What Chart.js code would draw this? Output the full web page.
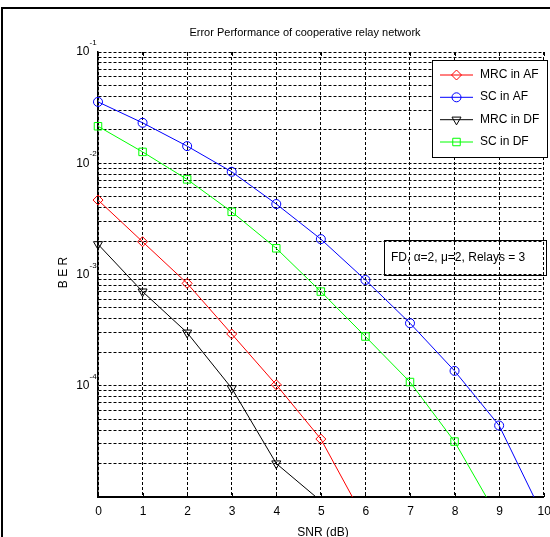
<!DOCTYPE html>
<html>
<head>
<meta charset="utf-8">
<script src="https://cdn.jsdelivr.net/npm/chart.js@4/dist/chart.umd.min.js"></script>
<style>
  html, body { margin: 0; padding: 0; background: #fff; overflow: hidden; }
  canvas { display: block; }
</style>
</head>
<body>
<canvas id="ber-chart" width="550" height="537"></canvas>
<script>
// 数据：BER 值
const snrValues = [0, 1, 2, 3, 4, 5, 6, 7, 8, 9, 10];
const mrcAF = [0.00467, 0.00197, 0.000833, 0.000292, 0.000102, 3.32e-5, 6.1e-6];
const scAF = [0.0356, 0.0231, 0.01426, 0.00838, 0.0043, 0.00208, 0.000893, 0.000365, 0.000136, 4.39e-5, 6.6e-6];
const mrcDF = [0.00187, 0.000702, 0.0003, 9.5e-5, 2.0e-5, 9.2e-6];
const scDF = [0.0215, 0.01265, 0.00716, 0.00366, 0.00172, 0.000702, 0.000277, 0.000108, 3.15e-5, 6.3e-6];

const seriesNames = ['MRC in AF', 'SC in AF', 'MRC in DF', 'SC in DF'];
const xTickLabels = ['0', '1', '2', '3', '4', '5', '6', '7', '8', '9', '10'];
const yDecades = [1e-4, 1e-3, 1e-2, 1e-1];
const yDecadeExps = ['-4', '-3', '-2', '-1'];
const titleText = 'Error Performance of cooperative relay network';
const xTitle = 'SNR (dB)';
const yTitle = 'B E R';
const noteText = 'FD, \u03b1=2, \u03bc=2, Relays = 3';

// log 网格：每个十进位 1..9
const yGridValues = [];
for (let e = -5; e <= -2; e++) {
  for (let m = 1; m <= 9; m++) yGridValues.push(m * Math.pow(10, e));
}
yGridValues.push(0.1);

const FONT = '"Liberation Sans", Arial, sans-serif';

function toPoints(vals) {
  return vals.map((v, i) => ({ x: snrValues[i], y: v }));
}

function makeSet(label, vals, color, style, radius, rotation) {
  return {
    label: label,
    data: toPoints(vals),
    borderColor: color,
    backgroundColor: 'rgba(0,0,0,0)',
    borderWidth: 1,
    pointStyle: style,
    pointRadius: radius,
    pointRotation: rotation || 0,
    pointBorderColor: color,
    pointBackgroundColor: 'rgba(0,0,0,0)',
    pointBorderWidth: 1,
    tension: 0,
    fill: false,
    clip: { left: 10, right: 10, top: 10, bottom: 0 }
  };
}

const datasets = [
  makeSet(seriesNames[0], mrcAF, '#ff0000', 'rectRot', 5),
  makeSet(seriesNames[1], scAF, '#0000ff', 'circle', 4.5),
  makeSet(seriesNames[2], mrcDF, '#000000', 'triangle', 5.2, 180),
  makeSet(seriesNames[3], scDF, '#00ff00', 'rect', 5.3)
];

function drawMarker(ctx, ds, x, y) {
  ctx.save();
  ctx.strokeStyle = ds.borderColor;
  ctx.fillStyle = 'rgba(0,0,0,0)';
  ctx.lineWidth = 1;
  Chart.helpers.drawPoint(ctx, {
    pointStyle: ds.pointStyle,
    radius: ds.pointRadius,
    rotation: ds.pointRotation,
    borderWidth: 1
  }, x, y);
  ctx.restore();
}

const overlay = {
  id: 'overlay',
  beforeDraw(chart) {
    const ctx = chart.ctx;
    ctx.save();
    ctx.fillStyle = '#fff';
    ctx.fillRect(0, 0, chart.width, chart.height);
    ctx.restore();
  },
  afterDraw(chart) {
    const { ctx, chartArea: a, scales } = chart;
    const xs = scales.x, ys = scales.y;
    ctx.save();

    // 内向刻度
    ctx.strokeStyle = '#000';
    ctx.lineWidth = 1;
    ctx.beginPath();
    snrValues.forEach(v => {
      const px = Math.round(xs.getPixelForValue(v)) + 0.5;
      ctx.moveTo(px, a.bottom); ctx.lineTo(px, a.bottom - 4);
      ctx.moveTo(px, a.top); ctx.lineTo(px, a.top + 4);
    });
    ctx.stroke();

    ctx.fillStyle = '#000';
    // x 刻度标签
    ctx.font = '12px ' + FONT;
    ctx.textAlign = 'center';
    ctx.textBaseline = 'middle';
    snrValues.forEach((v, i) => {
      ctx.fillText(xTickLabels[i], xs.getPixelForValue(v) + 0.5, 512);
    });
    ctx.fillText(xTitle, 323, 532.5);

    // y 刻度标签 10^k
    yDecades.forEach((v, i) => {
      const py = ys.getPixelForValue(v);
      ctx.font = '12px ' + FONT;
      ctx.textAlign = 'right';
      ctx.fillText('10', 89.5, py);
      ctx.font = '8px ' + FONT;
      ctx.textAlign = 'left';
      ctx.fillText(yDecadeExps[i], 89.5, py - 9);
    });

    // y 标题
    ctx.save();
    ctx.translate(64, 272.5);
    ctx.rotate(-Math.PI / 2);
    ctx.font = '12px ' + FONT;
    ctx.textAlign = 'center';
    ctx.fillText(yTitle, 0, 0);
    ctx.restore();

    // 标题
    ctx.font = '11px ' + FONT;
    ctx.textAlign = 'center';
    ctx.fillText(titleText, 305, 32.5);

    // 图例
    ctx.fillStyle = '#fff';
    ctx.fillRect(432.5, 60.5, 115, 97);
    ctx.strokeStyle = '#000';
    ctx.lineWidth = 1;
    ctx.strokeRect(432.5, 60.5, 115, 97);
    const rows = [74.5, 96.8, 119.2, 141.5];
    datasets.forEach((ds, i) => {
      const ry = rows[i];
      ctx.strokeStyle = ds.borderColor;
      ctx.lineWidth = 1;
      ctx.beginPath();
      ctx.moveTo(440, ry + 0.5); ctx.lineTo(473, ry + 0.5);
      ctx.stroke();
      drawMarker(ctx, ds, 456.5, ry + 0.5);
      ctx.fillStyle = '#000';
      ctx.font = '12px ' + FONT;
      ctx.textAlign = 'left';
      ctx.textBaseline = 'middle';
      ctx.fillText(ds.label, 480, ry);
    });

    // 注释框
    ctx.strokeStyle = '#000';
    ctx.lineWidth = 1;
    ctx.strokeRect(384.5, 240.5, 162, 35);
    ctx.fillStyle = '#000';
    ctx.font = '12px ' + FONT;
    ctx.textAlign = 'left';
    ctx.fillText(noteText, 391, 257.5);

    // 外框
    ctx.lineWidth = 2;
    ctx.strokeRect(2, 8, 700, 700);
    ctx.restore();
  }
};

const ctx = document.getElementById('ber-chart').getContext('2d');
new Chart(ctx, {
  type: 'line',
  data: { datasets: datasets },
  options: {
    responsive: false,
    animation: false,
    devicePixelRatio: 1,
    layout: { padding: { left: 98, right: 2, top: 52, bottom: 40 } },
    plugins: {
      legend: { display: false },
      tooltip: { enabled: false },
      title: { display: false }
    },
    scales: {
      x: {
        type: 'linear',
        min: 0,
        max: 10,
        ticks: { display: false, stepSize: 1 },
        grid: { color: '#000', lineWidth: 1, drawTicks: false },
        border: { display: true, color: '#000', width: 2, dash: [3, 2] }
      },
      y: {
        type: 'logarithmic',
        min: 1e-5,
        max: 0.1,
        afterBuildTicks: scale => {
          scale.ticks = yGridValues.map(v => ({ value: v }));
        },
        ticks: { display: false, autoSkip: false },
        grid: { color: '#000', lineWidth: 1, drawTicks: false },
        border: { display: true, color: '#000', width: 1.5, dash: [3, 2] }
      }
    }
  },
  plugins: [overlay]
});
</script>
</body>
</html>
